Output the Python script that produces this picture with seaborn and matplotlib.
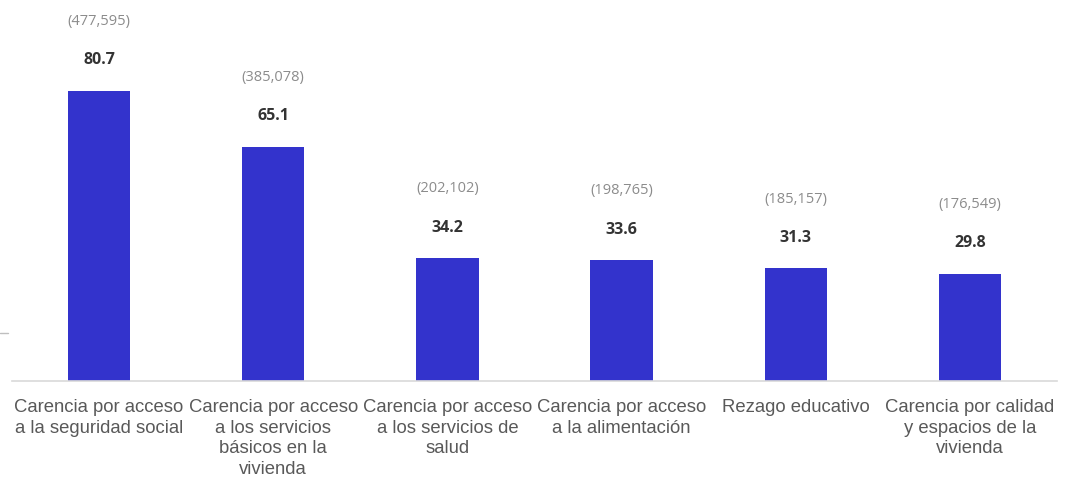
import matplotlib
matplotlib.use("Agg")
import matplotlib.pyplot as plt
import seaborn as sns
import pandas as pd

categories = [
    "Carencia por acceso\na la seguridad social",
    "Carencia por acceso\na los servicios\nbásicos en la\nvivienda",
    "Carencia por acceso\na los servicios de\nsalud",
    "Carencia por acceso\na la alimentación",
    "Rezago educativo",
    "Carencia por calidad\ny espacios de la\nvivienda",
]
percentages = [80.7, 65.1, 34.2, 33.6, 31.3, 29.8]
counts = ["(477,595)", "(385,078)", "(202,102)", "(198,765)", "(185,157)", "(176,549)"]

df = pd.DataFrame({"cat": categories, "pct": percentages})

sns.set_theme(style="white")
plt.rcParams["font.family"] = ["Liberation Sans", "DejaVu Sans"]

fig = plt.figure(figsize=(10.71, 4.8), dpi=100)
ax = fig.add_axes([12 / 1071, 99 / 480, 1045 / 1071, 381 / 480])

sns.barplot(data=df, x="cat", y="pct", color="#3333cc", width=0.357, ax=ax,
            saturation=1, linewidth=0)

ax.set_xlim(-0.5, 5.5)
ax.set_ylim(0, 106)
ax.set_xlabel("")
ax.set_ylabel("")
ax.set_yticks([])
for s in ["top", "right", "left"]:
    ax.spines[s].set_visible(False)
ax.spines["bottom"].set_color("#d9d9d9")
ax.spines["bottom"].set_linewidth(1.2)
ax.tick_params(axis="x", length=0, pad=13, labelsize=13.3, labelcolor="#595959")
for lbl in ax.get_xticklabels():
    lbl.set_linespacing(1.28)
    lbl.set_verticalalignment("top")

for i, (p, c) in enumerate(zip(percentages, counts)):
    ax.annotate(f"{p:.1f}", (i, p), xytext=(0, 22), textcoords="offset points",
                ha="center", va="center", fontsize=11.5, fontweight="bold",
                color="#333333", family=["Open Sans", "DejaVu Sans"])
    ax.annotate(c, (i, p), xytext=(0, 50), textcoords="offset points",
                ha="center", va="center", fontsize=10.5, color="#8c8c8c",
                family=["Open Sans", "DejaVu Sans"])

fig.add_artist(plt.Line2D([0, 8 / 1071], [1 - 333 / 480, 1 - 333 / 480],
                          color="#bfbfbf", linewidth=1))

fig.savefig("out.png", dpi=100)
